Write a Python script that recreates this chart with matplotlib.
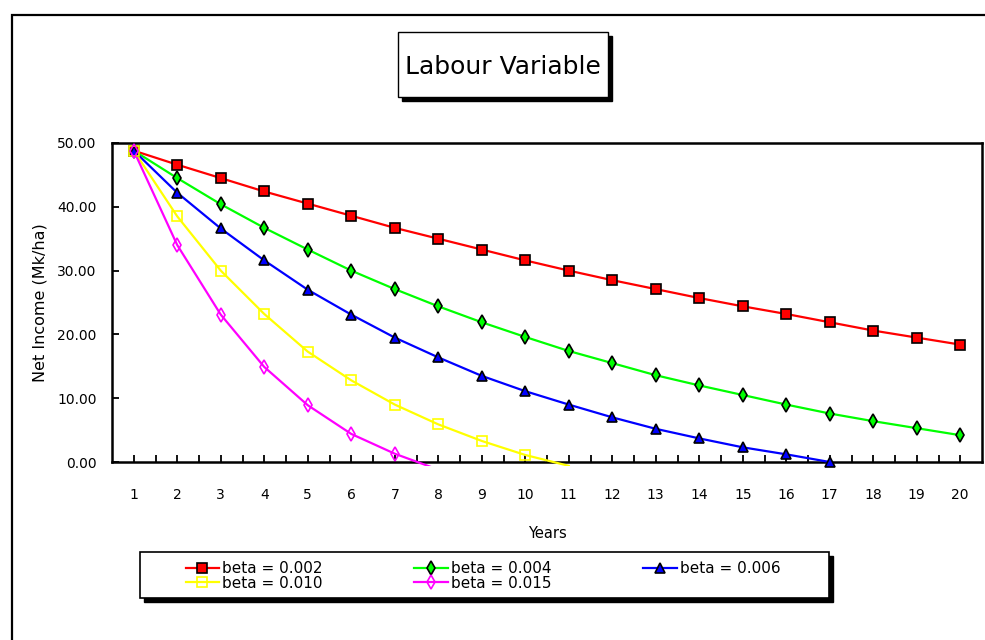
import numpy as np
import matplotlib
matplotlib.use("Agg")
import matplotlib.pyplot as plt
from matplotlib.patches import Rectangle
from matplotlib.lines import Line2D

# Net income per hectare over time for several labour-cost growth rates
years = np.arange(1, 21)
year_ticks = list(range(1, 21))
y_ticks = [0, 10, 20, 30, 40, 50]

beta_002 = [48.8, 46.6, 44.5, 42.4, 40.5, 38.6, 36.7, 35.0, 33.3, 31.6,
            30.0, 28.5, 27.1, 25.7, 24.4, 23.2, 21.9, 20.6, 19.5, 18.4]
beta_004 = [48.8, 44.5, 40.4, 36.7, 33.3, 30.0, 27.1, 24.4, 21.9, 19.6,
            17.4, 15.5, 13.6, 12.0, 10.5, 9.0, 7.6, 6.4, 5.3, 4.2]
beta_006 = [48.8, 42.2, 36.6, 31.6, 27.0, 23.1, 19.5, 16.4, 13.5, 11.1,
            9.0, 7.0, 5.2, 3.7, 2.3, 1.2, 0.0]
beta_010 = [48.8, 38.5, 30.0, 23.2, 17.3, 12.8, 9.0, 5.9, 3.3, 1.1, -0.6]
beta_015 = [48.8, 34.0, 23.1, 14.9, 8.9, 4.4, 1.3, -1.2]

series = [
    ("beta = 0.002", beta_002, "#ff0000", "s", "#ff0000", 6.5),
    ("beta = 0.004", beta_004, "#00ff00", "d", "#00ff00", 7.5),
    ("beta = 0.006", beta_006, "#0000ff", "^", "#0000ff", 6.5),
    ("beta = 0.010", beta_010, "#ffff00", "s", "none", 7),
    ("beta = 0.015", beta_015, "#ff00ff", "d", "none", 7.5),
]

W, H = 985, 640
fig = plt.figure(figsize=(W / 100, H / 100), dpi=100)


def fx(px):
    return px / W


def fy(py):
    return 1 - py / H


# outer chart-area border (runs off the right and bottom edges)
fig.patches.append(Rectangle((fx(12), fy(700)), fx(1100), fy(15) - fy(700),
                             transform=fig.transFigure, fill=False,
                             edgecolor="black", linewidth=1.6, zorder=0))

ax_l, ax_r, ax_t, ax_b = 112, 982, 143, 462
ax = fig.add_axes([fx(ax_l), fy(ax_b), fx(ax_r - ax_l), fy(ax_t) - fy(ax_b)])

clip = Rectangle((0.5, -0.65), 20, 52, transform=ax.transData)
handles = []
for label, vals, color, marker, face, ms in series:
    v = np.array(vals)
    x = years[:len(v)]
    line, = ax.plot(x, v, color=color, lw=1.6, zorder=3)
    line.set_clip_path(clip)
    keep = v >= 0
    edge = "black" if face != "none" else color
    ax.plot(x[keep], v[keep], ls="none", marker=marker, ms=ms,
            mfc=face, mec=edge, mew=1.2, zorder=4, clip_on=False)
    handles.append(Line2D([], [], color=color, lw=1.6, marker=marker, ms=ms,
                          mfc=face, mec=edge, mew=1.2))

ax.set_xlim(0.5, 20.5)
ax.set_ylim(0, 50)
ax.set_xticks(year_ticks)
ax.set_xticklabels([str(t) for t in year_ticks])
ax.set_xticks(np.arange(1.5, 20.5, 1.0), minor=True)
ax.set_yticks(y_ticks)
ax.set_yticklabels([f"{t:.2f}" for t in y_ticks])
ax.tick_params(axis="x", which="both", direction="in", length=5, width=1.3,
               pad=19, labelsize=10)
ax.tick_params(axis="y", which="major", direction="in", length=5, width=1.3,
               pad=11, labelsize=10)
for s in ax.spines.values():
    s.set_linewidth(1.8)
    s.set_color("black")

ax.set_ylabel("Net Income (Mk/ha)", fontsize=11.5)
ax.yaxis.set_label_coords((40 - ax_l) / (ax_r - ax_l), 0.5)
ax.yaxis.label.set_va("center")
ax.set_xlabel("Years", fontsize=10.5)
ax.xaxis.set_label_coords(0.5, -(533 - ax_b) / (ax_b - ax_t))
ax.xaxis.label.set_va("center")

# title box with drop shadow
tl, tr, tt, tb = 398, 608, 32, 97
fig.patches.append(Rectangle((fx(tl + 4), fy(tb + 4)), fx(tr - tl), fy(tt) - fy(tb),
                             transform=fig.transFigure, facecolor="black",
                             edgecolor="black", zorder=1))
fig.patches.append(Rectangle((fx(tl), fy(tb)), fx(tr - tl), fy(tt) - fy(tb),
                             transform=fig.transFigure, facecolor="white",
                             edgecolor="black", linewidth=1.0, zorder=2))
fig.text(fx((tl + tr) / 2), fy(67), "Labour Variable", fontsize=18,
         ha="center", va="center", zorder=3)

# legend box with drop shadow; entries laid out row by row
ll, lr, lt, lb = 140, 829, 552, 598
fig.patches.append(Rectangle((fx(ll + 4), fy(lb + 4)), fx(lr - ll), fy(lt) - fy(lb),
                             transform=fig.transFigure, facecolor="black",
                             edgecolor="black", zorder=1))
fig.patches.append(Rectangle((fx(ll), fy(lb)), fx(lr - ll), fy(lt) - fy(lb),
                             transform=fig.transFigure, facecolor="white",
                             edgecolor="black", linewidth=1.2, zorder=2))
labels = [s[0] for s in series]
order = [0, 3, 1, 4, 2]
leg = fig.legend([handles[i] for i in order], [labels[i] for i in order],
                 ncol=3, frameon=False,
                 loc="center", bbox_to_anchor=(fx(483), fy(576)),
                 fontsize=11, handlelength=2.2, handletextpad=0.2,
                 columnspacing=6.0, labelspacing=-0.05, borderpad=0)
leg.set_zorder(5)

fig.savefig("out.png", dpi=100)
